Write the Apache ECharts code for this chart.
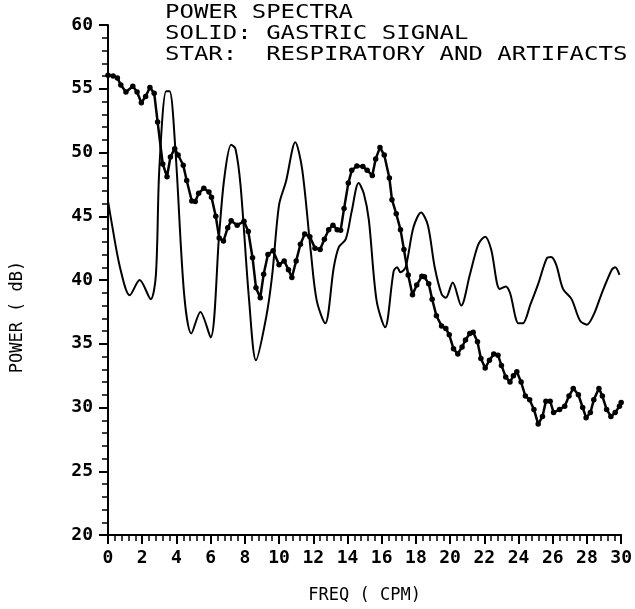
<!DOCTYPE html>
<html>
<head>
<meta charset="utf-8">
<script src="https://cdn.jsdelivr.net/npm/echarts@6/dist/echarts.min.js"></script>
<style>
  html, body { margin: 0; padding: 0; background: #fff; }
  #chart { width: 635px; height: 609px; }
</style>
</head>
<body>
<div id="chart"></div>
<script>
//////////////////////////////////////////////////////////////////
// [ Data ]

var titleLines = ['POWER SPECTRA', 'SOLID: GASTRIC SIGNAL', 'STAR:  RESPIRATORY AND ARTIFACTS'];

// solid line - gastric signal
var gastricFreq = [0, 0.2, 0.7, 1.27, 1.85, 2.5, 2.8, 3.0, 3.4, 3.6, 3.95, 4.45, 4.87, 5.4, 6.0, 6.5, 6.8, 7.2, 7.45, 7.75,
    8.25, 8.65, 9.25, 9.6, 10.0, 10.4, 10.95, 11.35, 11.85, 12.2, 12.7, 13.2, 13.5, 13.9, 14.25, 14.65, 14.95, 15.25, 15.7, 16.2,
    16.7, 16.9, 17.1, 17.4, 17.85, 18.3, 18.7, 19.1, 19.5, 19.75, 20.15, 20.65, 21.15, 21.65, 22.05, 22.4, 22.9, 23.25, 23.5, 24.0, 24.25,
    24.7, 25.15, 25.65, 25.9, 26.2, 26.6, 27.1, 27.6, 28.0, 28.4, 28.85, 29.45, 29.65, 29.9];
var gastricPower = [46.2, 44.6, 41.0, 38.8, 40.0, 38.5, 40.4, 48.7, 54.8, 54.8, 50.0, 38.9, 35.8, 37.5, 35.5, 43.6, 48.0, 50.6, 50.3, 47.4,
    38.4, 33.7, 37.1, 40.4, 45.9, 47.7, 50.8, 48.7, 42.3, 38.4, 36.6, 41.0, 42.6, 43.2, 45.4, 47.6, 46.8, 44.7, 38.4, 36.3,
    40.7, 41.0, 40.6, 41.0, 44.1, 45.3, 44.3, 41.0, 38.9, 38.6, 39.8, 38.0, 40.4, 42.8, 43.4, 42.4, 39.3, 39.5, 39.0, 36.6, 36.6,
    38.1, 39.7, 41.7, 41.8, 41.2, 39.3, 38.5, 36.8, 36.5, 37.3, 38.9, 40.8, 41.0, 40.4];

// star line - respiratory and artifacts
var starFreq = [0, 0.3, 0.55, 0.75, 1.05, 1.45, 1.7, 1.95, 2.2, 2.45, 2.7, 2.9, 3.2, 3.45, 3.65, 3.9, 4.1, 4.4, 4.6, 4.9,
    5.1, 5.3, 5.6, 5.9, 6.05, 6.3, 6.5, 6.75, 7.0, 7.2, 7.55, 7.95, 8.2, 8.45, 8.65, 8.9, 9.1, 9.35, 9.65, 10.0,
    10.3, 10.55, 10.75, 11.0, 11.25, 11.5, 11.8, 12.1, 12.4, 12.65, 12.9, 13.15, 13.4, 13.6, 13.8, 14.05, 14.25, 14.55, 14.9, 15.15,
    15.45, 15.65, 15.9, 16.15, 16.45, 16.6, 16.85, 17.1, 17.3, 17.55, 17.8, 18.05, 18.35, 18.5, 18.75, 18.95, 19.2, 19.5, 19.75, 19.95,
    20.2, 20.45, 20.7, 20.9, 21.15, 21.35, 21.6, 21.8, 22.05, 22.3, 22.55, 22.8, 23.0, 23.25, 23.5, 23.7, 23.9, 24.15, 24.4, 24.65,
    24.9, 25.15, 25.4, 25.6, 25.85, 26.05, 26.4, 26.7, 26.95, 27.2, 27.5, 27.75, 27.95, 28.2, 28.4, 28.7, 28.9, 29.15, 29.4, 29.65,
    29.9, 30.0];
var starPower = [56.05, 56.0, 55.85, 55.3, 54.75, 55.2, 54.75, 53.9, 54.4, 55.1, 54.65, 52.4, 49.1, 48.1, 49.65, 50.3, 49.8, 49.0, 47.8, 46.2,
    46.15, 46.8, 47.2, 46.9, 46.5, 45.0, 43.3, 43.05, 44.1, 44.65, 44.3, 44.6, 43.8, 41.75, 39.4, 38.6, 40.45, 42.0, 42.3, 41.2,
    41.5, 40.8, 40.2, 41.5, 42.8, 43.6, 43.4, 42.5, 42.4, 43.2, 43.95, 44.3, 43.95, 43.9, 45.6, 47.6, 48.6, 48.95, 48.9, 48.6,
    48.2, 49.5, 50.4, 49.8, 48.0, 46.3, 45.2, 43.95, 42.4, 40.4, 38.85, 39.6, 40.3, 40.25, 39.7, 38.5, 37.2, 36.4, 36.2, 35.7,
    34.6, 34.2, 34.75, 35.3, 35.8, 35.9, 35.15, 33.85, 33.1, 33.7, 34.2, 34.1, 33.3, 32.4, 32.0, 32.5, 32.8, 32.0, 30.9, 30.6,
    29.85, 28.7, 29.3, 30.5, 30.5, 29.6, 29.85, 30.1, 30.9, 31.5, 31.0, 30.0, 29.2, 29.6, 30.6, 31.5, 30.9, 29.85, 29.3, 29.6,
    30.1, 30.4];

//////////////////////////////////////////////////////////////////
// [ Chart ]

var FONT = '"DejaVu Sans Mono", monospace';

function pairs(xs, ys) {
    return xs.map(function (x, i) { return [x, ys[i]]; });
}

var chart = echarts.init(document.getElementById('chart'), null, { renderer: 'canvas' });

var axisCommon = {
    type: 'value',
    axisLine: { show: true, lineStyle: { color: '#000', width: 2 } },
    axisTick: { show: true, inside: false, length: 9, lineStyle: { color: '#000', width: 2 } },
    minorTick: { show: true, splitNumber: 5, length: 6, lineStyle: { color: '#000', width: 1.5 } },
    splitLine: { show: false },
    minorSplitLine: { show: false },
    axisLabel: { color: '#000', fontFamily: FONT, fontSize: 18, fontWeight: 'bold' }
};

var options = {
    animation: false,
    backgroundColor: '#fff',
    grid: { left: 108, right: 12, top: 25, bottom: 69 },
    xAxis: Object.assign({}, axisCommon, {
        min: 0, max: 30, interval: 2,
        axisLabel: Object.assign({}, axisCommon.axisLabel, { margin: 14 }),
        name: 'FREQ ( CPM)',
        nameLocation: 'middle',
        nameGap: 52,
        nameTextStyle: { color: '#000', fontFamily: FONT, fontSize: 17 }
    }),
    yAxis: Object.assign({}, axisCommon, {
        min: 20, max: 60, interval: 5,
        axisLabel: Object.assign({}, axisCommon.axisLabel, { margin: 15 })
    }),
    graphic: [
        {
            type: 'text', x: 18, y: 317, rotation: Math.PI / 2,
            style: { text: 'POWER ( dB)', fill: '#000', font: '17px ' + FONT, textAlign: 'center', textVerticalAlign: 'middle' }
        },
        {
            type: 'text', x: 165, y: 13, scaleX: 1.2,
            style: { text: titleLines[0], fill: '#000', font: '20px ' + FONT, textVerticalAlign: 'middle' }
        },
        {
            type: 'text', x: 165, y: 34, scaleX: 1.2,
            style: { text: titleLines[1], fill: '#000', font: '20px ' + FONT, textVerticalAlign: 'middle' }
        },
        {
            type: 'text', x: 165, y: 55, scaleX: 1.2,
            style: { text: titleLines[2], fill: '#000', font: '20px ' + FONT, textVerticalAlign: 'middle' }
        }
    ],
    series: [
        {
            name: 'GASTRIC SIGNAL',
            type: 'line',
            data: pairs(gastricFreq, gastricPower),
            showSymbol: false,
            smooth: 0.3,
            lineStyle: { color: '#000', width: 2 }
        },
        {
            name: 'RESPIRATORY AND ARTIFACTS',
            type: 'line',
            data: pairs(starFreq, starPower),
            symbol: 'circle',
            symbolSize: 5.5,
            itemStyle: { color: '#000' },
            lineStyle: { color: '#000', width: 2.5 }
        }
    ]
};

chart.setOption(options);
</script>
</body>
</html>
